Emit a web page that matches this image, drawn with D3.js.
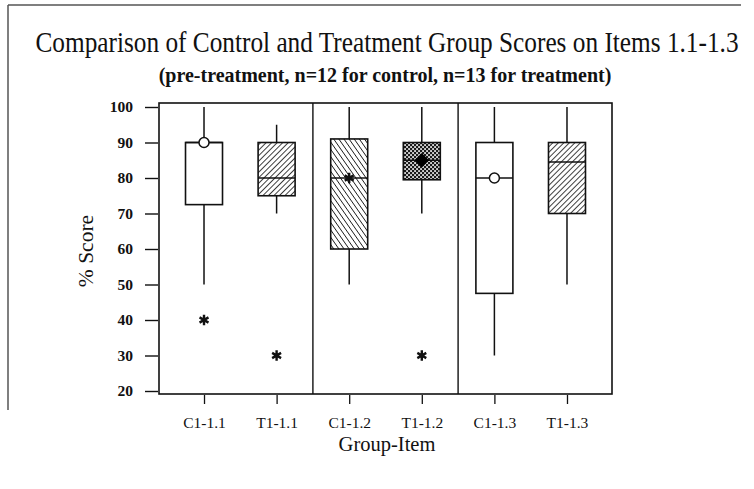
<!DOCTYPE html>
<html>
<head>
<meta charset="utf-8">
<script src="https://cdn.jsdelivr.net/npm/d3@7"></script>
<style>
  html, body { margin: 0; padding: 0; background: #fff; }
  svg { display: block; font-family: "Liberation Serif", "Times New Roman", serif; }
</style>
</head>
<body>
<svg id="chart" width="754" height="489"></svg>
<script>
// Box-plot summary per group-item
const categories  = ["C1-1.1", "T1-1.1", "C1-1.2", "T1-1.2", "C1-1.3", "T1-1.3"];
const whiskerLow  = [50, 70, 50, 70, 30, 50];
const quartile1   = [72.5, 75, 60, 79.5, 47.5, 70];
const medians     = [90, 80, 80, 85, 80, 84.5];
const quartile3   = [90, 90, 91, 90, 90, 90];
const whiskerHigh = [100, 95, 100, 100, 100, 100];
const outliers    = [[40], [30], [], [30], [], []];
const yTicks      = [20, 30, 40, 50, 60, 70, 80, 90, 100];

const title    = "Comparison of Control and Treatment Group Scores on Items 1.1-1.3";
const subtitle = "(pre-treatment, n=12 for control, n=13 for treatment)";

// Appearance of each box: fill pattern and median marker
const boxFill   = ["#fff", "url(#hatchUp)", "url(#hatchDown)", "url(#checker)", "#fff", "url(#hatchUp)"];
const medMarker = ["circle", "plus", "asterisk", "diamond", "circle", "plus"];

const svg = d3.select("#chart");

// ---- patterns ----
const defs = svg.append("defs");
function hatch(id, angle, gap, w) {
  const p = defs.append("pattern").attr("id", id)
    .attr("patternUnits", "userSpaceOnUse").attr("width", gap).attr("height", gap)
    .attr("patternTransform", `rotate(${angle})`);
  p.append("rect").attr("width", gap).attr("height", gap).attr("fill", "#fff");
  p.append("line").attr("x1", 0).attr("y1", 0).attr("x2", 0).attr("y2", gap)
    .attr("stroke", "#111").attr("stroke-width", w);
}
hatch("hatchUp", 45, 3.9, 1.6);
hatch("hatchDown", -35, 4.2, 1.6);
// fine checkerboard: white dots on a dark ground
const chk = defs.append("pattern").attr("id", "checker")
  .attr("patternUnits", "userSpaceOnUse").attr("width", 4).attr("height", 4);
chk.append("rect").attr("width", 4).attr("height", 4).attr("fill", "#1a1a1a");
chk.append("rect").attr("x", 0.2).attr("y", 0.2).attr("width", 1.7).attr("height", 1.7).attr("fill", "#fff");
chk.append("rect").attr("x", 2.2).attr("y", 2.2).attr("width", 1.7).attr("height", 1.7).attr("fill", "#fff");

// ---- page border (top and left edges) ----
svg.append("line").attr("x1", 8).attr("y1", 5).attr("x2", 741).attr("y2", 5)
  .attr("stroke", "#555").attr("stroke-width", 1.5);
svg.append("line").attr("x1", 8).attr("y1", 5).attr("x2", 8).attr("y2", 410)
  .attr("stroke", "#555").attr("stroke-width", 1.5);

// ---- titles (glyphs slightly tall, as in the printed original) ----
svg.append("text").attr("transform", "translate(387,52) scale(1,1.15)")
  .attr("text-anchor", "middle").attr("font-size", 25.3).attr("fill", "#111").text(title);
svg.append("text").attr("x", 385).attr("y", 82).attr("text-anchor", "middle")
  .attr("font-size", 20).attr("font-weight", "bold").attr("fill", "#111").text(subtitle);

// ---- scales ----
const frame = { left: 159, right: 612, top: 103, bottom: 394 };
const y = d3.scaleLinear().domain([20, 100]).range([391, 107]);
const x = d3.scalePoint().domain(categories).range([frame.left, frame.right]).padding(0.62);
const boxW = 37;

// plot frame
svg.append("rect").attr("x", frame.left).attr("y", frame.top)
  .attr("width", frame.right - frame.left).attr("height", frame.bottom - frame.top)
  .attr("fill", "none").attr("stroke", "#111").attr("stroke-width", 1.6);

// item separators
[1, 3].forEach(i => {
  const sx = (x(categories[i]) + x(categories[i + 1])) / 2;
  svg.append("line").attr("x1", sx).attr("x2", sx).attr("y1", frame.top).attr("y2", frame.bottom)
    .attr("stroke", "#111").attr("stroke-width", 1.4);
});

// ---- axes ----
const yAxis = svg.append("g").attr("transform", `translate(${frame.left - 1},0)`)
  .call(d3.axisLeft(y).tickValues(yTicks).tickSize(13).tickPadding(12));
yAxis.select(".domain").remove();
yAxis.selectAll(".tick line").attr("stroke", "#111").attr("stroke-width", 1.4);
yAxis.selectAll("text").attr("font-family", "Liberation Serif").attr("font-size", 15.5)
  .attr("font-weight", "bold").attr("fill", "#111");

const xAxis = svg.append("g").attr("transform", `translate(0,${frame.bottom + 1})`)
  .call(d3.axisBottom(x).tickSize(9).tickPadding(13));
xAxis.select(".domain").remove();
xAxis.selectAll(".tick line").attr("stroke", "#111").attr("stroke-width", 1.3);
xAxis.selectAll("text").attr("font-family", "Liberation Serif").attr("font-size", 15.5)
  .attr("fill", "#111");

svg.append("text").attr("transform", "translate(93,251) rotate(-90)")
  .attr("text-anchor", "middle").attr("font-size", 21.5).attr("fill", "#111").text("% Score");
svg.append("text").attr("x", 387).attr("y", 451).attr("text-anchor", "middle")
  .attr("font-size", 20.5).attr("fill", "#111").text("Group-Item");

// ---- boxes ----
const g = svg.append("g");
categories.forEach((c, i) => {
  const cx = x(c);
  // whiskers
  g.append("line").attr("x1", cx).attr("x2", cx).attr("y1", y(whiskerHigh[i])).attr("y2", y(quartile3[i]))
    .attr("stroke", "#111").attr("stroke-width", 1.5);
  g.append("line").attr("x1", cx).attr("x2", cx).attr("y1", y(quartile1[i])).attr("y2", y(whiskerLow[i]))
    .attr("stroke", "#111").attr("stroke-width", 1.5);
  // box
  g.append("rect").attr("x", cx - boxW / 2).attr("y", y(quartile3[i]))
    .attr("width", boxW).attr("height", y(quartile1[i]) - y(quartile3[i]))
    .attr("fill", boxFill[i]).attr("stroke", "#111").attr("stroke-width", 1.6);
  // median line
  g.append("line").attr("x1", cx - boxW / 2).attr("x2", cx + boxW / 2)
    .attr("y1", y(medians[i])).attr("y2", y(medians[i]))
    .attr("stroke", "#111").attr("stroke-width", 1.6);
  // median marker
  const my = y(medians[i]);
  const m = medMarker[i];
  if (m === "circle") {
    g.append("circle").attr("cx", cx).attr("cy", my).attr("r", 5)
      .attr("fill", "#fff").attr("stroke", "#111").attr("stroke-width", 1.5);
  } else if (m === "plus") {
    g.append("path").attr("transform", `translate(${cx},${my})`)
      .attr("d", d3.symbol(d3.symbolPlus, 45)()).attr("fill", "#111");
  } else if (m === "asterisk") {
    g.append("path").attr("transform", `translate(${cx},${my})`)
      .attr("d", d3.symbol(d3.symbolAsterisk, 75)()).attr("fill", "none")
      .attr("stroke", "#111").attr("stroke-width", 2.4);
  } else if (m === "diamond") {
    g.append("path").attr("transform", `translate(${cx},${my}) rotate(45)`)
      .attr("d", d3.symbol(d3.symbolSquare, 85)()).attr("fill", "#000")
      .attr("stroke", "#000").attr("stroke-width", 1);
  }
  // outliers
  outliers[i].forEach(v => {
    g.append("path").attr("transform", `translate(${cx},${y(v)})`)
      .attr("d", d3.symbol(d3.symbolAsterisk, 75)()).attr("fill", "none")
      .attr("stroke", "#111").attr("stroke-width", 2.4);
  });
});
</script>
</body>
</html>
